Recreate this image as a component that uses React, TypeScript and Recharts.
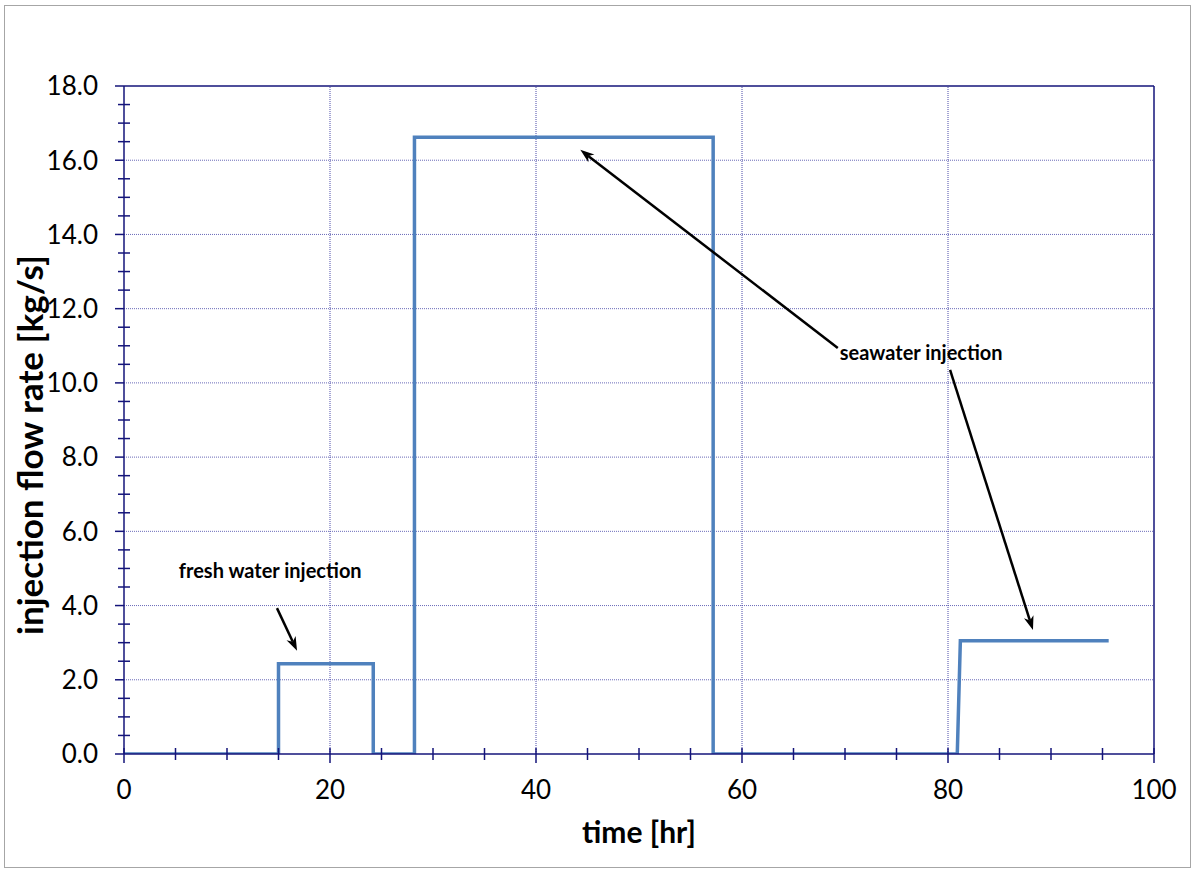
import React from "react";
import { LineChart, Line, XAxis, YAxis, ReferenceLine, ReferenceDot, Label } from "recharts";

// step profile of injection flow rate
const times = [0, 15, 15, 24.2, 24.2, 28.2, 28.2, 57.2, 57.2, 80.9, 81.2, 95.6];
const rates = [0, 0, 2.43, 2.43, 0, 0, 16.62, 16.62, 0, 0, 3.05, 3.05];

const xTicks = [0, 5, 10, 15, 20, 25, 30, 35, 40, 45, 50, 55, 60, 65, 70, 75, 80, 85, 90, 95, 100];
const xMajor = [0, 20, 40, 60, 80, 100];
const yTicks = [0, 0.5, 1, 1.5, 2, 2.5, 3, 3.5, 4, 4.5, 5, 5.5, 6, 6.5, 7, 7.5, 8, 8.5, 9, 9.5, 10, 10.5, 11, 11.5, 12, 12.5, 13, 13.5, 14, 14.5, 15, 15.5, 16, 16.5, 17, 17.5, 18];
const yMajor = [0, 2, 4, 6, 8, 10, 12, 14, 16, 18];
const xGrid = [20, 40, 60, 80];
const yGrid = [2, 4, 6, 8, 10, 12, 14, 16];

const labelTexts = ["fresh water injection", "seawater injection"];
const labelX = [14.2, 77.4];
const labelY = [4.93, 10.8];

// arrows in data units (head at the "to" point)
const arrowFrom = [
  { x: 14.85, y: 3.93 },
  { x: 69.3, y: 10.94 },
  { x: 80.2, y: 10.35 },
];
const arrowTo = [
  { x: 16.8, y: 2.78 },
  { x: 44.3, y: 16.28 },
  { x: 88.25, y: 3.34 },
];

const data = times.map((t, i) => ({ t, r: rates[i] }));

const FONT = "Lato, 'Open Sans', sans-serif";
const NAVY = "#14147a";

const XTick = (props: any) => {
  const { x, y, payload } = props;
  const major = xMajor.includes(payload.value);
  return (
    <g>
      <line x1={x} x2={x} y1={y - 6} y2={y + (major ? 9 : 6)} stroke={NAVY} strokeWidth={1.5} />
      {major && (
        <text x={x} y={y + 45} textAnchor="middle" fontFamily={FONT} fontSize={26} fill="#000">
          {payload.value}
        </text>
      )}
    </g>
  );
};

const YTick = (props: any) => {
  const { x, y, payload } = props;
  const major = yMajor.includes(payload.value);
  return (
    <g>
      {major ? (
        <line x1={x - 9} x2={x} y1={y} y2={y} stroke={NAVY} strokeWidth={1.5} />
      ) : (
        <line x1={x - 6} x2={x + 6} y1={y} y2={y} stroke={NAVY} strokeWidth={1.5} />
      )}
      {major && (
        <text x={x - 26} y={y} dy="0.36em" textAnchor="end" fontFamily={FONT} fontSize={26} fill="#000">
          {payload.value.toFixed(1)}
        </text>
      )}
    </g>
  );
};

const Arrow = (props: any) => {
  const { x1, y1, x2, y2 } = props;
  if ([x1, y1, x2, y2].some((v) => v == null || isNaN(v))) return null;
  const ang = Math.atan2(y2 - y1, x2 - x1);
  const L = 14;
  const W = 5;
  const bx = x2 - L * Math.cos(ang);
  const by = y2 - L * Math.sin(ang);
  const px = -Math.sin(ang) * W;
  const py = Math.cos(ang) * W;
  const nx = x2 - (L - 4) * Math.cos(ang);
  const ny = y2 - (L - 4) * Math.sin(ang);
  return (
    <g>
      <line x1={x1} y1={y1} x2={nx} y2={ny} stroke="#000" strokeWidth={2.5} />
      <polygon points={`${x2},${y2} ${bx + px},${by + py} ${nx},${ny} ${bx - px},${by - py}`} fill="#000" />
    </g>
  );
};

const makeText = (txt: string) => (props: any) => {
  const { cx, cy } = props;
  if (cx == null || cy == null) return null;
  return (
    <text x={cx} y={cy} dy="0.36em" textAnchor="middle" fontFamily={FONT} fontWeight="bold" fontSize={20} fill="#000">
      {txt}
    </text>
  );
};

export default function App() {
  return (
    <div style={{ position: "absolute", left: 0, top: 0, width: 1196, height: 872, background: "#fff" }}>
      <div
        style={{
          position: "absolute",
          left: 4,
          top: 5,
          width: 1187,
          height: 863,
          border: "1px solid #a6a6a6",
          boxSizing: "border-box",
        }}
      />
      <div style={{ position: "absolute", left: 0, top: 0 }}>
        <LineChart width={1196} height={872} data={data} margin={{ top: 86, right: 42, bottom: 58, left: 0 }}>
          <XAxis
            dataKey="t"
            type="number"
            domain={[0, 100]}
            ticks={xTicks}
            interval={0}
            tickSize={0}
            tickMargin={0}
            tickLine={false}
            tick={<XTick />}
            height={60}
            stroke={NAVY}
            strokeWidth={1.5}
            allowDataOverflow
          >
            <Label
              content={(p: any) => {
                const vb = p.viewBox || { x: 124, y: 754, width: 1030 };
                return (
                  <text
                    x={vb.x + vb.width / 2}
                    y={vb.y + 89}
                    textAnchor="middle"
                    fontFamily={FONT}
                    fontWeight="bold"
                    fontSize={30}
                    fill="#000"
                  >
                    time [hr]
                  </text>
                );
              }}
            />
          </XAxis>
          <YAxis
            type="number"
            domain={[0, 18]}
            ticks={yTicks}
            interval={0}
            tickSize={0}
            tickMargin={0}
            tickLine={false}
            tick={<YTick />}
            width={124}
            stroke={NAVY}
            strokeWidth={1.5}
            allowDataOverflow
          >
            <Label
              content={(p: any) => {
                const vb = p.viewBox || { x: 0, y: 86, width: 124, height: 668 };
                const cx = vb.x + 30;
                const cy = vb.y + 359;
                return (
                  <text
                    x={cx}
                    y={cy}
                    dy="0.36em"
                    transform={`rotate(-90 ${cx} ${cy})`}
                    textAnchor="middle"
                    fontFamily={FONT}
                    fontWeight="bold"
                    fontSize={35}
                    fill="#000"
                  >
                    injection flow rate [kg/s]
                  </text>
                );
              }}
            />
          </YAxis>
          {yGrid.map((v) => (
            <ReferenceLine key={`gy${v}`} y={v} stroke="#6a6ab8" strokeDasharray="1 1" strokeWidth={1} />
          ))}
          {xGrid.map((v) => (
            <ReferenceLine key={`gx${v}`} x={v} stroke="#4a4aa8" strokeDasharray="1 1" strokeWidth={1} />
          ))}
          <ReferenceLine y={18} stroke={NAVY} strokeWidth={1.5} />
          <ReferenceLine x={100} stroke={NAVY} strokeWidth={1.5} />
          <Line
            dataKey="r"
            type="linear"
            stroke="#4f81bd"
            strokeWidth={3.5}
            dot={false}
            activeDot={false}
            isAnimationActive={false}
          />
          {arrowFrom.map((a, i) => (
            <ReferenceLine
              key={`ar${i}`}
              segment={[a, arrowTo[i]]}
              shape={(p: any) => <Arrow {...p} />}
              ifOverflow="visible"
            />
          ))}
          {labelTexts.map((t, i) => (
            <ReferenceDot
              key={`lb${i}`}
              x={labelX[i]}
              y={labelY[i]}
              r={0}
              shape={makeText(t)}
              ifOverflow="visible"
            />
          ))}
        </LineChart>
      </div>
    </div>
  );
}
